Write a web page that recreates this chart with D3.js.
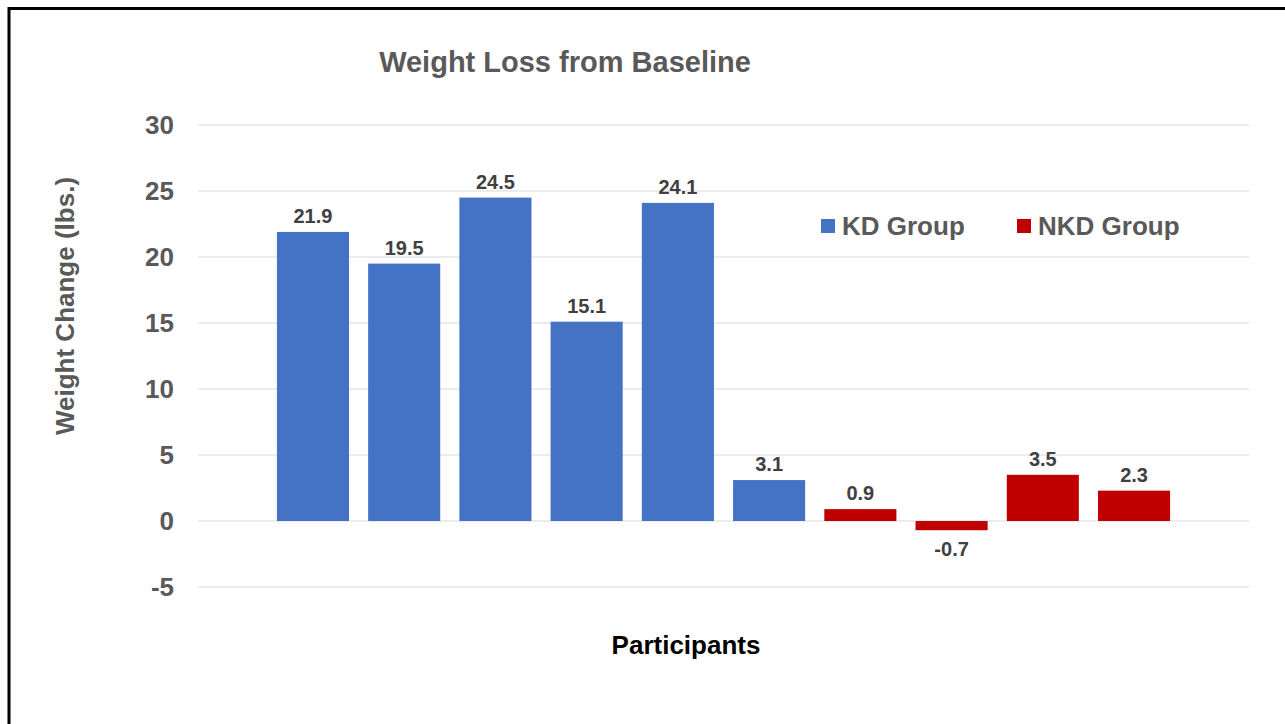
<!DOCTYPE html>
<html>
<head>
<meta charset="utf-8">
<script src="https://cdn.jsdelivr.net/npm/d3@7"></script>
<style>
  body { margin: 0; background: #fff; }
  svg text { font-family: "Liberation Sans", Arial, sans-serif; font-weight: bold; }
</style>
</head>
<body>
<div class="content"></div>
<script>
var participants = ['P1','P2','P3','P4','P5','P6','P7','P8','P9','P10'];
var weightChange = [21.9, 19.5, 24.5, 15.1, 24.1, 3.1, 0.9, -0.7, 3.5, 2.3];
var groups = ['KD Group','KD Group','KD Group','KD Group','KD Group','KD Group','NKD Group','NKD Group','NKD Group','NKD Group'];
var legendNames = ['KD Group', 'NKD Group'];
var yTicks = [-5, 0, 5, 10, 15, 20, 25, 30];

var data = participants.map(function(p, i) {
  return {name: p, value: weightChange[i], group: groups[i]};
});

var svgWidth = 1285, svgHeight = 724;
var svg = d3.select('.content')
  .append('svg')
  .attr('width', svgWidth)
  .attr('height', svgHeight);

// frame
svg.append('path')
  .attr('d', 'M9,724 V8.5 H1285')
  .attr('fill', 'none')
  .attr('stroke', '#000')
  .attr('stroke-width', 3);

var color = d3.scaleOrdinal().domain(legendNames).range(['#4472c4', '#c00000']);

var x = d3.scaleBand().range([198, 1249])
  .paddingInner(0.21)
  .paddingOuter(0.865)
  .domain(participants);

var y = d3.scaleLinear().range([587, 125]).domain([-5, 30]);

// hyphen instead of unicode minus, like the original
var fmt = function(d) { return String(d); };

// gridlines
svg.append('g')
  .selectAll('line')
  .data(yTicks)
  .enter()
  .append('line')
  .attr('x1', 198)
  .attr('x2', 1249)
  .attr('y1', function(d) { return y(d); })
  .attr('y2', function(d) { return y(d); })
  .attr('stroke', '#d9d9d9')
  .attr('stroke-width', 1);

var axis_y = svg.append('g')
  .attr('transform', 'translate(198,0)')
  .call(d3.axisLeft(y).tickValues(yTicks).tickSize(0).tickPadding(24).tickFormat(fmt));
axis_y.select('path').style('display', 'none');
axis_y.selectAll('text')
  .style('fill', '#595959')
  .style('font-size', '26px')
  .style('font-family', '"Liberation Sans", Arial, sans-serif')
  .style('font-weight', 'bold');

// bars
svg.append('g')
  .selectAll('rect')
  .data(data)
  .enter()
  .append('rect')
  .attr('x', function(d) { return x(d.name); })
  .attr('width', x.bandwidth())
  .attr('y', function(d) { return y(Math.max(0, d.value)); })
  .attr('height', function(d) { return Math.abs(y(d.value) - y(0)); })
  .attr('fill', function(d) { return color(d.group); });

// value labels
svg.append('g')
  .selectAll('text')
  .data(data)
  .enter()
  .append('text')
  .attr('x', function(d) { return x(d.name) + x.bandwidth() / 2; })
  .attr('y', function(d) { return d.value >= 0 ? y(d.value) - 9 : y(d.value) + 26; })
  .attr('text-anchor', 'middle')
  .style('font-size', '20px')
  .style('fill', '#404040')
  .text(function(d) { return d.value.toFixed(1); });

// title
svg.append('text')
  .attr('x', 565)
  .attr('y', 72)
  .attr('text-anchor', 'middle')
  .style('font-size', '29px')
  .style('fill', '#595959')
  .text('Weight Loss from Baseline');

// axis titles
svg.append('text')
  .attr('transform', 'translate(74,306) rotate(-90)')
  .attr('text-anchor', 'middle')
  .style('font-size', '26px')
  .style('fill', '#595959')
  .text('Weight Change (lbs.)');

svg.append('text')
  .attr('x', 686)
  .attr('y', 654)
  .attr('text-anchor', 'middle')
  .style('font-size', '26px')
  .style('fill', '#000')
  .text('Participants');

// legend
var legendX = [821, 1017];
var legend = svg.append('g')
  .selectAll('g')
  .data(legendNames)
  .enter()
  .append('g')
  .attr('transform', function(d, i) { return 'translate(' + legendX[i] + ',219)'; });
legend.append('rect')
  .attr('width', 14)
  .attr('height', 14)
  .attr('fill', function(d) { return color(d); });
legend.append('text')
  .attr('x', 21)
  .attr('y', 16)
  .style('font-size', '26px')
  .style('fill', '#595959')
  .text(function(d) { return d; });
</script>
</body>
</html>
